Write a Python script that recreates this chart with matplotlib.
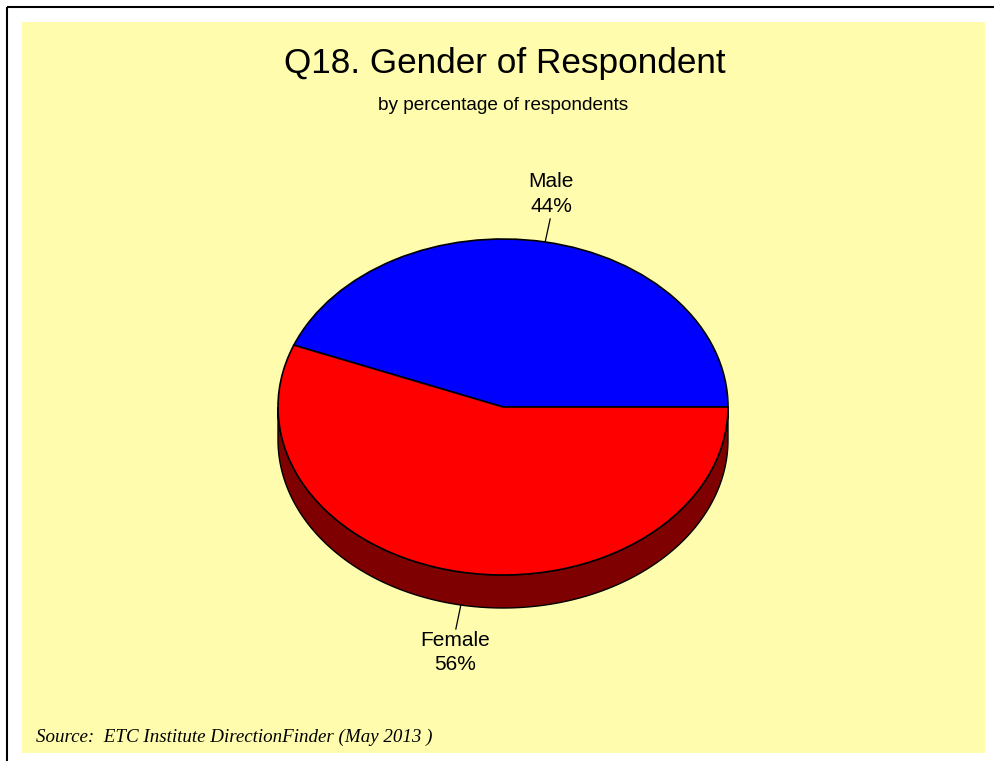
import numpy as np
import matplotlib
matplotlib.use("Agg")
import matplotlib.pyplot as plt
from matplotlib.patches import Wedge, Polygon, Rectangle
from matplotlib.transforms import Affine2D

# ---- data ----
categories = ["Male", "Female"]
values = [44, 56]
colors = ["#0000FF", "#FF0000"]
side_colors = ["#00007F", "#7F0000"]
title = "Q18. Gender of Respondent"
subtitle = "by percentage of respondents"
source = "Source:  ETC Institute DirectionFinder (May 2013 )"

W, H = 994, 761
fig = plt.figure(figsize=(W / 100, H / 100), dpi=100)
ax = fig.add_axes([0, 0, 1, 1])
ax.set_xlim(0, W)
ax.set_ylim(H, 0)
ax.axis("off")

# frame and background
ax.add_patch(Rectangle((6.5, 6.5), W, H, fill=False, ec="black", lw=1.5, zorder=0))
ax.add_patch(Rectangle((22, 22), 963, 731, fc="#FFFDAD", ec="none", zorder=0.5))

# pie geometry (pixel space)
cx, cy, rx, ry, depth = 503, 407, 225, 168, 33
ell = Affine2D().scale(rx, -ry).translate(cx, cy) + ax.transData

fracs = np.array(values, float) / sum(values)
starts = np.concatenate([[0], np.cumsum(fracs)[:-1]]) * 360
ends = np.cumsum(fracs) * 360

def pt(a, dy=0.0):
    r = np.deg2rad(a)
    return cx + rx * np.cos(r), cy - ry * np.sin(r) + dy

# side walls (visible front half: 180..360 degrees)
for s, e, sc in zip(starts, ends, side_colors):
    a0, a1 = max(s, 180), min(e, 360)
    if a1 <= a0:
        continue
    angs = np.linspace(a0, a1, 200)
    top = [pt(a) for a in angs]
    bot = [pt(a, depth) for a in angs[::-1]]
    ax.add_patch(Polygon(top + bot, closed=True, fc=sc, ec="black", lw=1, zorder=2))

# top faces
for s, e, c in zip(starts, ends, colors):
    ax.add_patch(Wedge((0, 0), 1, s, e, fc=c, ec="black", lw=1.2,
                       transform=ell, zorder=3))

# labels with leader lines
lab_kw = dict(ha="center", va="center", fontsize=15, family="Liberation Sans", zorder=5)
for cat, v, s, e in zip(categories, values, starts, ends):
    mid = (s + e) / 2
    r = np.deg2rad(mid)
    if np.sin(r) > 0:
        x0, y0 = pt(mid)
        x1, y1 = x0 + 5, y0 - 23
        ax.plot([x0, x1], [y0, y1], color="black", lw=0.9, zorder=4)
        ax.text(x1 + 1, y1 - 12, f"{v}%", **lab_kw)
        ax.text(x1 + 1, y1 - 37, cat, **lab_kw)
    else:
        x0, y0 = pt(mid, depth)
        x1, y1 = x0 - 5, y0 + 24
        ax.plot([x0, x1], [y0, y1], color="black", lw=0.9, zorder=4)
        ax.text(x1 - 1, y1 + 11, cat, **lab_kw)
        ax.text(x1 - 1, y1 + 35, f"{v}%", **lab_kw)

ax.text(505, 63, title, ha="center", va="center", fontsize=25.3,
        family="Liberation Sans")
ax.text(503, 105, subtitle, ha="center", va="center", fontsize=13.7,
        family="Liberation Sans")
ax.text(36, 737, source, ha="left", va="center", fontsize=13.7,
        family="Liberation Serif", style="italic")

fig.savefig("out.png", dpi=100)
